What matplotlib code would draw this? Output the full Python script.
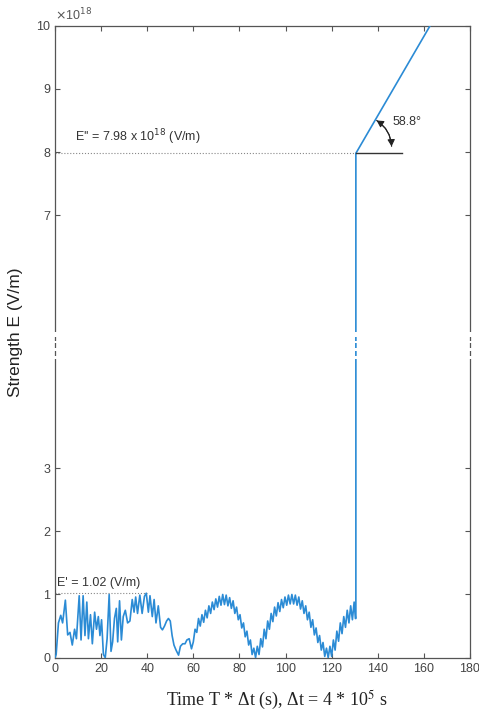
import matplotlib.pyplot as plt
from matplotlib.patches import FancyArrowPatch

plt.rcParams['font.family'] = ['Liberation Sans', 'DejaVu Sans']

# field strength before the jump (V/m)
t_low = [0.0, 0.5, 1.5, 2.5, 3.3, 4.5, 5.5, 6.5, 7.5, 8.5,
         9.3, 10.5, 11.3, 12.2, 13.0, 13.8, 14.5, 15.4, 16.2, 17.2,
         18.0, 18.8, 19.5, 20.2, 21.0, 21.8, 22.6, 23.5, 24.3, 25.0,
         25.8, 26.6, 27.2, 28.0, 28.8, 29.6, 30.5, 31.5, 32.5, 33.5,
         34.3, 35.0, 35.8, 36.8, 37.8, 38.8, 39.6, 40.5, 41.2, 42.2,
         43.0, 43.8, 44.8, 45.8, 46.6, 47.5, 48.4, 49.2, 50.0, 50.8,
         51.6, 52.5, 53.6, 54.4, 55.4, 56.4, 57.2, 58.2, 59.2,
         60.0, 60.75, 61.5, 62.25, 63.0, 63.75, 64.5, 65.25, 66.0, 66.75,
         67.5, 68.25, 69.0, 69.75, 70.5, 71.25, 72.0, 72.75, 73.5, 74.25,
         75.0, 75.75, 76.5, 77.25, 78.0, 78.75, 79.5, 80.25, 81.0, 81.75,
         82.5, 83.25, 84.0, 84.75, 85.5, 86.25, 87.0, 87.75, 88.5, 89.25,
         90.0, 90.75, 91.5, 92.25, 93.0, 93.75, 94.5, 95.25, 96.0, 96.75,
         97.5, 98.25, 99.0, 99.75, 100.5, 101.25, 102.0, 102.75, 103.5, 104.25,
         105.0, 105.75, 106.5, 107.25, 108.0, 108.75, 109.5, 110.25, 111.0, 111.75,
         112.5, 113.25, 114.0, 114.75, 115.5, 116.25, 117.0, 117.75, 118.5, 119.25,
         120.0, 120.75, 121.5, 122.25, 123.0, 123.75, 124.5, 125.25, 126.0, 126.75,
         127.5, 128.25, 129.0, 129.75, 130.3]
e_low = [0.00, 0.05, 0.55, 0.67, 0.55, 0.91, 0.36, 0.40, 0.20, 0.45,
         0.30, 0.98, 0.28, 0.98, 0.35, 0.88, 0.30, 0.68, 0.22, 0.72,
         0.45, 0.65, 0.35, 0.60, 0.05, 0.00, 0.30, 1.00, 0.10, 0.25,
         0.62, 0.78, 0.25, 0.90, 0.28, 0.65, 0.75, 0.55, 0.58, 0.92,
         0.72, 0.96, 0.70, 0.99, 0.70, 0.97, 1.02, 0.72, 0.98, 0.65,
         0.92, 0.55, 0.82, 0.48, 0.44, 0.50, 0.58, 0.62, 0.58, 0.35,
         0.20, 0.12, 0.04, 0.18, 0.22, 0.22, 0.28, 0.30, 0.14,
         0.25, 0.45, 0.40, 0.62, 0.50, 0.68, 0.56, 0.75, 0.63, 0.82,
         0.70, 0.88, 0.76, 0.93, 0.80, 0.97, 0.83, 1.00, 0.84, 0.99,
         0.82, 0.95, 0.78, 0.90, 0.70, 0.80, 0.60, 0.68, 0.47, 0.55,
         0.33, 0.42, 0.20, 0.28, 0.05, 0.15, 0.00, 0.18, 0.05, 0.30,
         0.17, 0.45, 0.30, 0.58, 0.45, 0.70, 0.57, 0.80, 0.66, 0.87,
         0.73, 0.92, 0.79, 0.96, 0.83, 0.99, 0.85, 1.00, 0.85, 0.99,
         0.83, 0.96, 0.77, 0.90, 0.70, 0.82, 0.60, 0.72, 0.48, 0.60,
         0.36, 0.47, 0.24, 0.35, 0.12, 0.24, 0.02, 0.15, 0.00, 0.18,
         0.02, 0.28, 0.12, 0.42, 0.26, 0.55, 0.38, 0.65, 0.48, 0.75,
         0.55, 0.82, 0.60, 0.88, 0.62]

# jump and linear rise, upper half is in units of 1e18 V/m
t_jump = 130.5
e_jump_from = 0.62
e_peak = 7.98          # E''
e_first = 1.02         # E'
t_end = 162.7
e_end = 10.0
angle_label = "58.8°"

x_ticks = [0, 20, 40, 60, 80, 100, 120, 140, 160, 180]
y_ticks = [0, 1, 2, 3, 7, 8, 9, 10]

blue = '#2b8bd5'
axcol = '#555555'

fig = plt.figure(figsize=(4.79, 7.19), dpi=100)
ax = fig.add_axes([0.1148, 0.0853, 0.8664, 0.879])

t_all = t_low + [t_jump, t_jump, t_end]
e_all = e_low + [e_jump_from, e_peak, e_end]
ax.plot(t_all, e_all, color=blue, lw=1.2, zorder=3)

# guide lines
ax.plot([0, t_jump], [e_peak, e_peak], ls=':', color='#888888', lw=0.8)
ax.plot([0, 40], [e_first, e_first], ls=':', color='#888888', lw=0.8)
ax.plot([t_jump, 150.5], [e_peak, e_peak], color='#333333', lw=1.0, zorder=3)

# double-headed arc marking the angle
for p0, p1, rad in [((139.5, 8.50), (146.0, 8.09), -0.25), ((146.0, 8.09), (139.5, 8.50), 0.25)]:
    ax.add_patch(FancyArrowPatch(p0, p1, arrowstyle='-|>,head_length=4,head_width=2.2',
                                 connectionstyle=f'arc3,rad={rad}', color='#222222', lw=0.8,
                                 shrinkA=0, shrinkB=0, zorder=4))

ax.text(146.5, 8.48, angle_label, fontsize=9, color='#333333', va='center', ha='left')
ax.text(8.5, 8.08, "E'' = 7.98 x 10$^{18}$ (V/m)", fontsize=9, color='#333333', va='bottom')
ax.text(0.9, 1.08, "E' = 1.02 (V/m)", fontsize=9, color='#333333', va='bottom')
ax.text(0.0, 1.004, r'$\times$10$^{18}$', transform=ax.transAxes, fontsize=9,
        color='#555555', va='bottom', ha='left')

# axis break at the middle
gap_spans = [(5.07, 5.15), (4.98, 5.01), (4.85, 4.90), (4.72, 4.77)]
for xb in (0, t_jump, 180):
    for y0, y1 in gap_spans:
        ax.plot([xb, xb], [y0, y1], color='white', lw=3, solid_capstyle='butt',
                clip_on=False, zorder=6)

ax.set_xlim(0, 180)
ax.set_ylim(0, 10)
ax.set_xticks(x_ticks)
ax.set_yticks(y_ticks)
ax.set_yticklabels([str(v) for v in y_ticks])
ax.tick_params(direction='in', length=3.5, width=0.8, top=True, right=True,
               color=axcol, labelcolor='#444444', labelsize=9)
for s in ax.spines.values():
    s.set_color(axcol)
    s.set_linewidth(0.9)

ax.set_ylabel('Strength E (V/m)', fontsize=12.5, color='#222222')
ax.yaxis.set_label_coords(-0.076, 0.515)
ax.set_xlabel('Time T * Δt (s), Δt = 4 * 10$^5$ s', fontsize=13, color='#222222',
              fontfamily='Liberation Serif', math_fontfamily='stix', va='center')
ax.xaxis.set_label_coords(0.535, -0.067)

fig.savefig('out.png', dpi=100)
